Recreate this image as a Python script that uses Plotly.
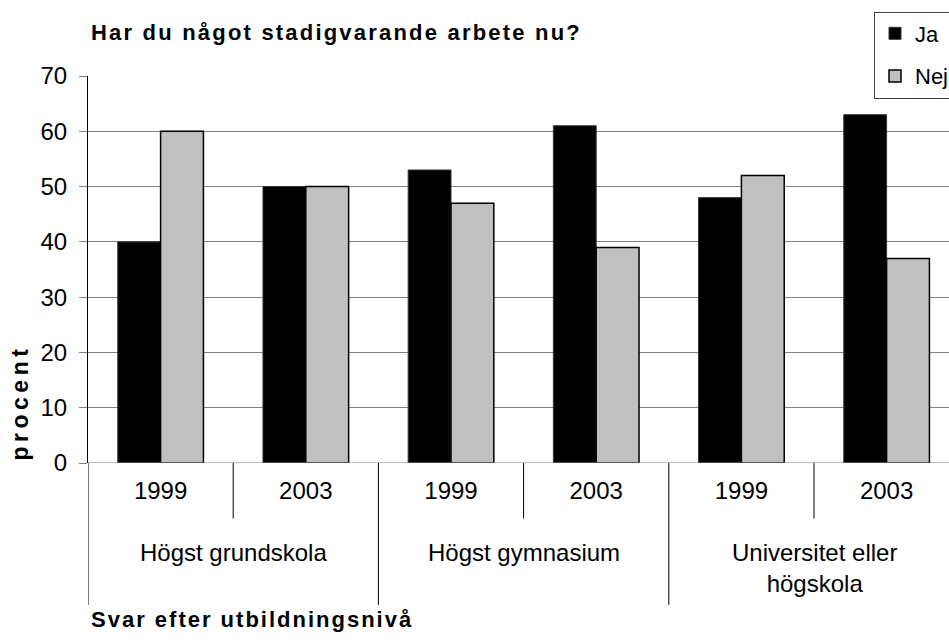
import plotly.graph_objects as go

groups = ["Högst grundskola", "Högst gymnasium", "Universitet eller<br>högskola"]
years = ["1999", "2003", "1999", "2003", "1999", "2003"]
ja = [40, 50, 53, 61, 48, 63]
nej = [60, 50, 47, 39, 52, 37]
yticks = [0, 10, 20, 30, 40, 50, 60, 70]

title_text = "Har du något stadigvarande arbete nu?"
xtitle_text = "Svar efter utbildningsnivå"
ytitle_text = "procent"

# figure is wider than the 949px window so the legend box runs off the edge
W, H = 1010, 644
VIEW_W = 949
ML, MT, MB = 88, 73, 181
MR = W - VIEW_W
PH = H - MT - MB
PW = W - ML - MR
CAT_W = 145.2


def py(pix):
    return (H - MB - pix) / PH


def px(pix):
    return (pix - ML) / PW


xs = list(range(len(years)))

fig = go.Figure()
fig.add_trace(go.Bar(
    x=xs, y=ja, name="Ja", legendgroup="ja",
    marker=dict(color="#000000", line=dict(color="#333333", width=1)),
))
fig.add_trace(go.Bar(
    x=xs, y=nej, name="Nej", legendgroup="nej",
    marker=dict(color="#c0c0c0", line=dict(color="#000000", width=1.5)),
))

font_fam = "Liberation Sans, Arial, sans-serif"

fig.update_layout(
    width=W, height=H,
    margin=dict(l=ML, r=MR, t=MT, b=MB, pad=0),
    paper_bgcolor="white", plot_bgcolor="white",
    barmode="group", bargap=0.41, bargroupgap=0,
    font=dict(family=font_fam, size=24, color="black"),
    showlegend=True,
    legend=dict(
        x=px(874), y=py(8), xanchor="left", yanchor="top",
        bgcolor="white", bordercolor="#404040", borderwidth=1,
        font=dict(size=22, family=font_fam),
        traceorder="grouped", tracegroupgap=11,
        itemwidth=30,
    ),
)

fig.update_xaxes(
    range=[-0.5, -0.5 + PW / CAT_W],
    tickmode="array", tickvals=xs, ticktext=years,
    ticks="", showgrid=False, zeroline=False,
    showline=False,
    tickfont=dict(size=24, family=font_fam),
    ticklabelstandoff=11,
)
fig.update_yaxes(
    range=[0, 70], tickmode="array", tickvals=yticks,
    ticks="outside", ticklen=8, tickcolor="#808080", tickwidth=1,
    showgrid=True, gridcolor="#808080", gridwidth=1,
    zeroline=False,
    showline=True, linecolor="black", linewidth=1,
    tickfont=dict(size=24, family=font_fam),
    ticklabelstandoff=7,
)

# bottom axis line at zero (gray)
fig.add_shape(type="line", xref="paper", yref="y", x0=0, x1=1, y0=0, y1=0,
              line=dict(color="#808080", width=1))

# dividers for the two-level category axis
short_y = py(519)
long_y = py(606)
for i in range(len(years) + 1):
    xb = i - 0.5
    is_group = (i % 2 == 0)
    fig.add_shape(type="line", xref="x", yref="paper",
                  x0=xb, x1=xb, y0=0, y1=long_y if is_group else short_y,
                  line=dict(color="black", width=1))

for gi, g in enumerate(groups):
    fig.add_annotation(
        x=2 * gi + 0.5, xref="x", y=py(538), yref="paper",
        text=g, showarrow=False, xanchor="center", yanchor="top",
        font=dict(size=24, family=font_fam), align="center",
    )

fig.add_annotation(
    x=px(89), xref="paper", y=py(29), yref="paper",
    text="<b><span style='letter-spacing:2.2px'>" + title_text + "</span></b>",
    showarrow=False, xanchor="left", yanchor="middle",
    font=dict(size=22, family=font_fam),
)
fig.add_annotation(
    x=px(89), xref="paper", y=py(621), yref="paper",
    text="<b><span style='letter-spacing:2px'>" + xtitle_text + "</span></b>",
    showarrow=False, xanchor="left", yanchor="middle",
    font=dict(size=22, family=font_fam),
)
fig.add_annotation(
    x=px(20), xref="paper", y=py(402), yref="paper",
    text="<b><span style='letter-spacing:4.5px'>" + ytitle_text + "</span></b>",
    showarrow=False, xanchor="center", yanchor="middle", textangle=-90,
    font=dict(size=23, family=font_fam),
)

fig.write_html(
    "out.html",
    config={"displayModeBar": False},
    post_script="document.body.style.margin='0';document.body.style.overflow='hidden';",
)
